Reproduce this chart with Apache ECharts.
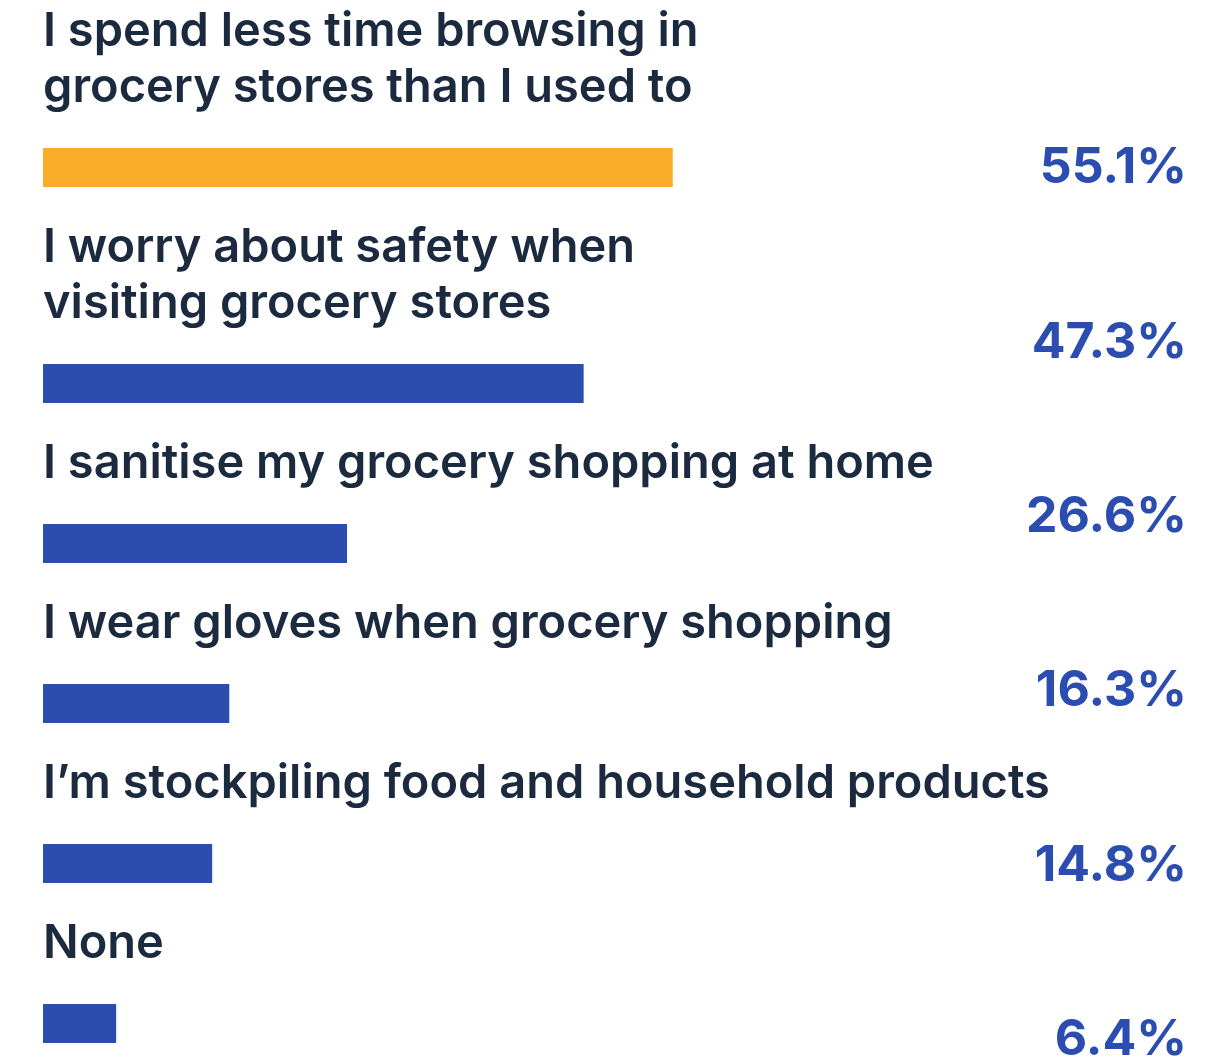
<!DOCTYPE html>
<html>
<head>
<meta charset="utf-8">
<title>Grocery shopping behaviour</title>
<script src="https://cdn.jsdelivr.net/npm/echarts@6/dist/echarts.min.js"></script>
<style>
  html, body { margin: 0; padding: 0; background: #ffffff; }
  #chart { width: 1213px; height: 1059px; }
</style>
</head>
<body>
<div id="chart"></div>
<script>
// Survey statements (line breaks as set in the layout) and share of respondents, %
const categories = [
  'I spend less time browsing in\ngrocery stores than I used to',
  'I worry about safety when\nvisiting grocery stores',
  'I sanitise my grocery shopping at home',
  'I wear gloves when grocery shopping',
  'I\u2019m stockpiling food and household products',
  'None'
];
const values = [55.1, 47.3, 26.6, 16.3, 14.8, 6.4];
const valueLabels = values.map(v => v.toFixed(1) + '%');

// Styling
const TEXT_COLOR = '#1b2a3e';
const BLUE = '#2b4db0';
const ORANGE = '#f9ad29';
const FONT = 'Inter, "Noto Sans", sans-serif';

// Layout: each statement sits above its own bar
const LEFT = 43;
const PLOT_WIDTH = 1143;      // 0..100 %
const LINE_H = 56;
const BAR_H = 39;
const LABEL_GAP = 32;         // space between statement text and its bar
const BLOCK_GAP = 33;         // space between a bar and the next statement

const grids = [], xAxes = [], yAxes = [], series = [];
let cursor = 4;               // top of the first statement block
categories.forEach((cat, i) => {
  const lines = cat.split('\n').length;
  const barTop = cursor + lines * LINE_H + LABEL_GAP;
  grids.push({
    left: LEFT, top: barTop, width: PLOT_WIDTH, height: BAR_H,
    containLabel: false, outerBoundsMode: 'none'
  });
  xAxes.push({
    type: 'value', gridIndex: i, min: 0, max: 100,
    show: false
  });
  yAxes.push({
    type: 'category', gridIndex: i, data: [cat],
    axisLine: { show: false }, axisTick: { show: false }, axisLabel: { show: false },
    name: cat, nameLocation: 'end', nameGap: LABEL_GAP,
    nameTextStyle: {
      align: 'left', verticalAlign: 'bottom',
      fontFamily: FONT, fontSize: 47, fontWeight: 600,
      lineHeight: LINE_H, color: TEXT_COLOR
    }
  });
  series.push({
    type: 'bar', xAxisIndex: i, yAxisIndex: i,
    data: [values[i]], barWidth: BAR_H,
    itemStyle: { color: i === 0 ? ORANGE : BLUE },
    silent: true
  });
  cursor = barTop + BAR_H + BLOCK_GAP;
});

// Percentages in an evenly spaced column on the right
const vi = categories.length;
grids.push({
  left: LEFT, right: 26, top: 81, height: 1046,
  containLabel: false, outerBoundsMode: 'none'
});
xAxes.push({ type: 'value', gridIndex: vi, min: 0, max: 100, show: false });
yAxes.push({
  type: 'category', gridIndex: vi, data: valueLabels, inverse: true, position: 'right',
  axisLine: { show: false }, axisTick: { show: false }, splitLine: { show: false },
  axisLabel: {
    inside: true, margin: 0, align: 'right',
    fontFamily: FONT, fontSize: 50, fontWeight: 700, color: BLUE
  }
});

const chart = echarts.init(document.getElementById('chart'), null, { renderer: 'canvas' });
chart.setOption({
  backgroundColor: '#ffffff',
  animation: false,
  grid: grids,
  xAxis: xAxes,
  yAxis: yAxes,
  series: series
});
</script>
</body>
</html>
